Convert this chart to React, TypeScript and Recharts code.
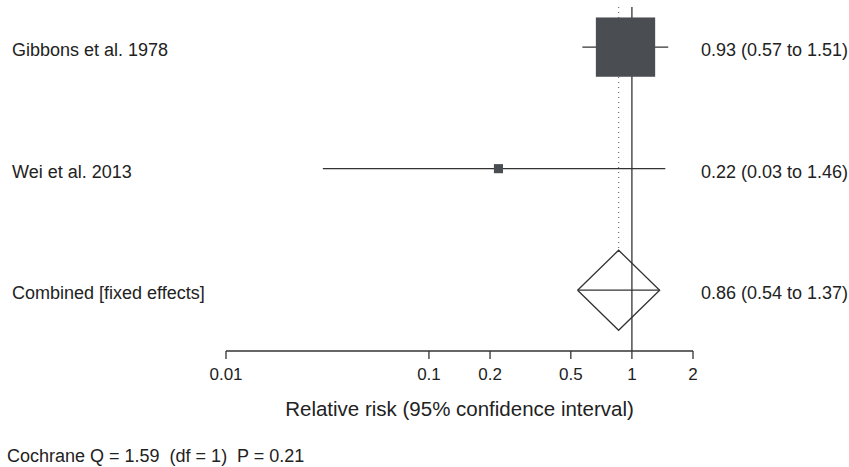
import React from 'react';
import { ComposedChart, XAxis, YAxis, Scatter, ReferenceLine, Label } from 'recharts';

// study rows (top to bottom)
const studies = ['Gibbons et al. 1978', 'Wei et al. 2013'];
const estimates = [0.93, 0.22];
const lowerCI = [0.57, 0.03];
const upperCI = [1.51, 1.46];
const weights = [97.7, 2.3];

// pooled estimate
const pooledLabel = 'Combined [fixed effects]';
const pooledEst = [0.86];
const pooledLow = [0.54];
const pooledHigh = [1.37];

const xTicks = [0.01, 0.1, 0.2, 0.5, 1, 2];
const heterogeneity = 'Cochrane Q = 1.59  (df = 1)  P = 0.21';

const W = 849;
const H = 467;
const FONT = '"Liberation Sans", Arial, sans-serif';
const INK = '#333';
const Y_DOMAIN: [number, number] = [0.5, 3.33];
const MARGIN = { top: 7, right: 156, bottom: 46, left: 12 };
const Y_AXIS_W = 214;
const X_AXIS_H = 70;
const plotH = H - MARGIN.top - MARGIN.bottom - X_AXIS_H;
const pxPerRow = plotH / (Y_DOMAIN[1] - Y_DOMAIN[0]);
const diamondHalf = 40 / pxPerRow;

const fmt = (v: number) => v.toFixed(2);

const rowOf = (i: number) => studies.length + 1 - i;
const pooledRow = 1;

const squares = studies.map((s, i) => ({ rr: estimates[i], row: rowOf(i), w: weights[i] }));
const ciSegments = studies.map((s, i) => [
  { rr: lowerCI[i], row: rowOf(i) },
  { rr: upperCI[i], row: rowOf(i) },
]);
const diamond = [
  { rr: pooledLow[0], row: pooledRow },
  { rr: pooledEst[0], row: pooledRow + diamondHalf },
  { rr: pooledHigh[0], row: pooledRow },
  { rr: pooledEst[0], row: pooledRow - diamondHalf },
  { rr: pooledLow[0], row: pooledRow },
];
const diamondMid = [
  { rr: pooledLow[0], row: pooledRow },
  { rr: pooledHigh[0], row: pooledRow },
];
const pooledDotted = [
  { rr: pooledEst[0], row: Y_DOMAIN[1] },
  { rr: pooledEst[0], row: pooledRow + diamondHalf },
];

const rowText = (row: number) => {
  if (row === pooledRow) {
    return [pooledLabel, `${fmt(pooledEst[0])} (${fmt(pooledLow[0])} to ${fmt(pooledHigh[0])})`];
  }
  const i = studies.length + 1 - row;
  return [studies[i], `${fmt(estimates[i])} (${fmt(lowerCI[i])} to ${fmt(upperCI[i])})`];
};

const RowTick = (props: any) => {
  const { y, payload } = props;
  const [left, right] = rowText(payload.value);
  return (
    <g>
      <text x={12} y={y + 9} fontSize={18} fill="#222" fontFamily={FONT}>{left}</text>
      <text x={701} y={y + 9} fontSize={18} fill="#222" fontFamily={FONT}>{right}</text>
    </g>
  );
};

const Square = (props: any) => {
  const { cx, cy, payload } = props;
  const side = Math.sqrt(payload.w) * 6;
  return <rect x={cx - side / 2} y={cy - side / 2} width={side} height={side} fill="#4a4d52" />;
};

const NoDot = () => <g />;

export default function App() {
  if (typeof document !== 'undefined') document.body.style.margin = '0';
  const lineStyle = { stroke: INK, strokeWidth: 1.3 };
  return (
    <div style={{ position: 'relative', width: W, height: H, background: '#fff' }}>
      <ComposedChart width={W} height={H} margin={MARGIN} style={{ fontFamily: FONT }}>
        <XAxis
          type="number"
          dataKey="rr"
          scale="log"
          domain={[0.01, 2]}
          allowDataOverflow
          ticks={xTicks}
          tickFormatter={(v: number) => String(v)}
          tickSize={8}
          tickMargin={9}
          height={X_AXIS_H}
          axisLine={{ stroke: INK, strokeWidth: 1.3 }}
          tickLine={{ stroke: INK, strokeWidth: 1.3 }}
          tick={{ fontSize: 17, fill: '#222', fontFamily: FONT }}
        >
          <Label
            value="Relative risk (95% confidence interval)"
            position="insideBottom"
            offset={5}
            fontSize={20.5}
            style={{ fontSize: 20.5, fill: '#222', fontFamily: FONT }}
          />
        </XAxis>
        <YAxis
          type="number"
          dataKey="row"
          domain={Y_DOMAIN}
          allowDataOverflow
          ticks={[3, 2, 1]}
          width={Y_AXIS_W}
          axisLine={false}
          tickLine={false}
          tick={<RowTick />}
        />
        <ReferenceLine x={1} stroke={INK} strokeWidth={1.3} />
        <Scatter data={pooledDotted} line={{ stroke: '#777', strokeWidth: 1.3, strokeDasharray: '1 4' }} shape={<NoDot />} isAnimationActive={false} />
        {ciSegments.map((seg, i) => (
          <Scatter key={i} data={seg} line={lineStyle} shape={<NoDot />} isAnimationActive={false} />
        ))}
        <Scatter data={squares} shape={<Square />} isAnimationActive={false} />
        <Scatter data={diamond} line={lineStyle} shape={<NoDot />} isAnimationActive={false} />
        <Scatter data={diamondMid} line={lineStyle} shape={<NoDot />} isAnimationActive={false} />
      </ComposedChart>
      <svg width={W} height={H} style={{ position: 'absolute', left: 0, top: 0, pointerEvents: 'none' }}>
        <text x={7} y={462} fontSize={18} fill="#222" fontFamily={FONT} style={{ whiteSpace: 'pre' }}>{heterogeneity}</text>
      </svg>
    </div>
  );
}
